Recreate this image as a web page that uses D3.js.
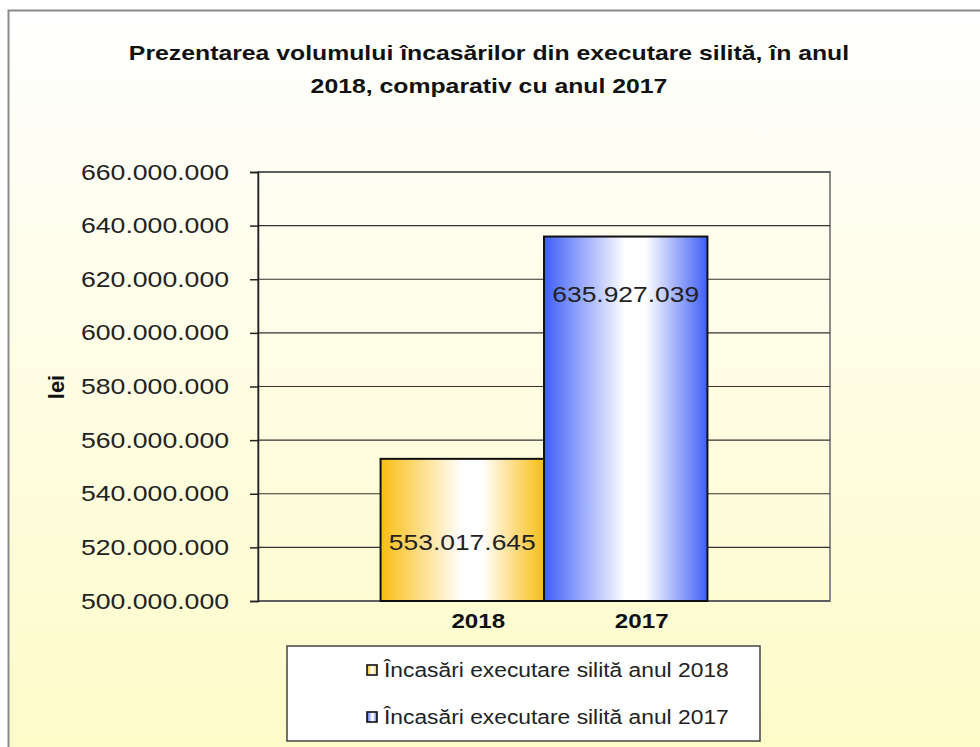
<!DOCTYPE html>
<html>
<head>
<meta charset="utf-8">
<script src="https://cdn.jsdelivr.net/npm/d3@7"></script>
<style>
  body { margin: 0; background: #fff; }
  svg { display: block; font-family: Arial, "Liberation Sans", sans-serif; }
</style>
</head>
<body>
<div class="chart"></div>
<script>
const years = ['2018', '2017'];
const values = [553017645, 635927039];
const legendLabels = ['Încasări executare silită anul 2018', 'Încasări executare silită anul 2017'];
const yTicks = [500000000, 520000000, 540000000, 560000000, 580000000, 600000000, 620000000, 640000000, 660000000];
const titleLines = ['Prezentarea volumului încasărilor din executare silită, în anul', '2018, comparativ cu anul 2017'];

const width = 980,
  height = 747,
  plotLeft = 258,
  plotRight = 830,
  plotTop = 172,
  plotBottom = 601;

const svg = d3.select('.chart')
  .append('svg')
  .attr('width', width)
  .attr('height', height);

// the original picture is a bit stretched sideways, widen text the same way
function stretch(sel, k = 1.15) {
  sel.each(function () {
    const len = this.getComputedTextLength();
    d3.select(this)
      .attr('textLength', len * k)
      .attr('lengthAdjust', 'spacingAndGlyphs');
  });
}

const defs = svg.append('defs');

const bg = defs.append('linearGradient')
  .attr('id', 'bg')
  .attr('x1', 0).attr('y1', 0).attr('x2', 0).attr('y2', 1);
bg.append('stop').attr('offset', '0%').attr('stop-color', '#ffffff');
bg.append('stop').attr('offset', '100%').attr('stop-color', '#fdfbc6');

// horizontal gradients for the bars: colour at the edges, white in the middle
const barColors = ['#f9bd12', '#3f5ff8'];
barColors.forEach((c, i) => {
  const g = defs.append('linearGradient')
    .attr('id', 'bar' + i)
    .attr('x1', 0).attr('y1', 0).attr('x2', 1).attr('y2', 0);
  g.append('stop').attr('offset', '0%').attr('stop-color', c);
  g.append('stop').attr('offset', '50%').attr('stop-color', '#ffffff');
  g.append('stop').attr('offset', '62%').attr('stop-color', '#ffffff');
  g.append('stop').attr('offset', '100%').attr('stop-color', c);
});

// chart area background + border (cropped on right and bottom)
svg.append('rect')
  .attr('x', 8.5)
  .attr('y', 10.5)
  .attr('width', width + 20)
  .attr('height', height + 20)
  .attr('fill', 'url(#bg)')
  .attr('stroke', '#8a8a8a')
  .attr('stroke-width', 2);

// title
svg.append('g')
  .selectAll('text')
  .data(titleLines)
  .join('text')
  .attr('x', 489)
  .attr('y', (d, i) => 60 + i * 33)
  .attr('text-anchor', 'middle')
  .style('font-size', '21px')
  .style('font-weight', 'bold')
  .style('fill', '#111')
  .text(d => d)
  .call(stretch, 1.18);

const yScale = d3.scaleLinear()
  .domain([500000000, 660000000])
  .range([plotBottom, plotTop]);

const xScale = d3.scaleBand()
  .domain(years)
  .range([plotLeft, plotRight])
  .paddingInner(0)
  .paddingOuter(0.75);

const fmt = v => d3.format(',')(v).replace(/,/g, '.');

// plot border
svg.append('rect')
  .attr('x', plotLeft)
  .attr('y', plotTop)
  .attr('width', plotRight - plotLeft)
  .attr('height', plotBottom - plotTop)
  .attr('fill', 'none')
  .attr('stroke', '#8c8c8c')
  .attr('stroke-width', 2);

// gridlines
svg.append('g')
  .selectAll('line')
  .data(yTicks)
  .join('line')
  .attr('x1', plotLeft)
  .attr('x2', plotRight)
  .attr('y1', d => yScale(d))
  .attr('y2', d => yScale(d))
  .attr('stroke', '#333')
  .attr('stroke-width', 1.2);

const yAxis = d3.axisLeft(yScale)
  .tickValues(yTicks)
  .tickFormat(fmt)
  .tickSize(8)
  .tickPadding(21);

const yG = svg.append('g')
  .attr('transform', `translate(${plotLeft}, 0)`)
  .call(yAxis);
yG.select('.domain').attr('stroke', '#222').attr('stroke-width', 1.5);
yG.selectAll('.tick line').attr('stroke', '#222').attr('stroke-width', 1.5);
yG.selectAll('text')
  .style('font-size', '22px')
  .style('font-family', 'Arial, "Liberation Sans", sans-serif')
  .attr('fill', '#222')
  .call(stretch, 1.21);

svg.append('text')
  .attr('transform', 'translate(64, 387) rotate(-90)')
  .attr('text-anchor', 'middle')
  .style('font-size', '22px')
  .style('font-weight', 'bold')
  .attr('fill', '#111')
  .text('lei');

// bars
svg.append('g')
  .selectAll('rect')
  .data(values)
  .join('rect')
  .attr('x', (d, i) => xScale(years[i]))
  .attr('y', d => yScale(d))
  .attr('width', xScale.bandwidth())
  .attr('height', d => plotBottom - yScale(d))
  .attr('fill', (d, i) => `url(#bar${i})`)
  .attr('stroke', '#111')
  .attr('stroke-width', 2);

// value labels
const labelShift = [83, 57];
svg.append('g')
  .selectAll('text')
  .data(values)
  .join('text')
  .attr('x', (d, i) => xScale(years[i]) + xScale.bandwidth() / 2)
  .attr('y', (d, i) => yScale(d) + labelShift[i] + 8)
  .attr('text-anchor', 'middle')
  .style('font-size', '22px')
  .attr('fill', '#222')
  .text(d => fmt(d))
  .call(stretch, 1.2);

// x axis labels
svg.append('g')
  .selectAll('text')
  .data(years)
  .join('text')
  .attr('x', d => xScale(d) + xScale.bandwidth() / 2 + 16)
  .attr('y', 628)
  .attr('text-anchor', 'middle')
  .style('font-size', '21px')
  .style('font-weight', 'bold')
  .attr('fill', '#111')
  .text(d => d)
  .call(stretch);

// legend
const legend = svg.append('g');
legend.append('rect')
  .attr('x', 287)
  .attr('y', 646)
  .attr('width', 473)
  .attr('height', 95)
  .attr('fill', '#fff')
  .attr('stroke', '#444')
  .attr('stroke-width', 1.5);

const items = legend.selectAll('g.item')
  .data(legendLabels)
  .join('g')
  .attr('class', 'item')
  .attr('transform', (d, i) => `translate(367, ${670 + i * 47})`);

items.append('rect')
  .attr('x', 0)
  .attr('y', -5)
  .attr('width', 10)
  .attr('height', 10)
  .attr('fill', (d, i) => `url(#bar${i})`)
  .attr('stroke', '#111')
  .attr('stroke-width', 1.6);

items.append('text')
  .attr('x', 17)
  .attr('y', 7)
  .style('font-size', '20px')
  .attr('fill', '#222')
  .text(d => d)
  .call(stretch, 1.14);
</script>
</body>
</html>
